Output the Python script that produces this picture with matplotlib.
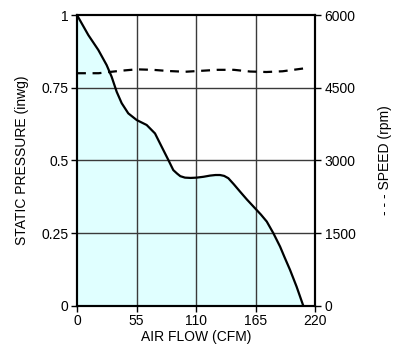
import matplotlib
matplotlib.use("Agg")
import matplotlib.pyplot as plt

plt.rcParams["font.family"] = ["Liberation Sans", "DejaVu Sans"]
plt.rcParams["font.size"] = 10

# ------------------------------------------------------------------
# Data
# ------------------------------------------------------------------
flow_cfm = [0, 10.5, 19.7, 27.4, 32, 36.7, 41.3, 47.4, 55.2, 64.4, 72.1,
            78.3, 84.4, 89, 92.5, 95.5, 99.8, 105, 110.6, 117, 123, 128,
            132.2, 136, 139.9, 145, 150.7, 157, 164.5, 170, 175.4, 181.5,
            187.7, 192, 196.9, 203, 209.2]
pressure_inwg = [1.0, 0.931, 0.88, 0.828, 0.788, 0.736, 0.697, 0.662, 0.639,
                 0.622, 0.593, 0.547, 0.502, 0.467, 0.455, 0.446, 0.441,
                 0.44, 0.441, 0.444, 0.448, 0.45, 0.45, 0.447, 0.439, 0.418,
                 0.393, 0.366, 0.336, 0.314, 0.29, 0.25, 0.204, 0.166,
                 0.124, 0.066, 0.0]

speed_cfm = [0, 20, 40, 55, 70, 85, 100, 115, 130, 145, 160, 175, 190,
             200, 210]
speed_rpm = [4800, 4800, 4850, 4880, 4870, 4845, 4830, 4850, 4870, 4870,
             4835, 4825, 4840, 4870, 4900]

x_ticks = [0, 55, 110, 165, 220]
p_ticks = [0, 0.25, 0.5, 0.75, 1]
p_labels = ["0", "0.25", "0.5", "0.75", "1"]
rpm_ticks = [0, 1500, 3000, 4500, 6000]

fig = plt.figure(figsize=(4, 3.5), dpi=100)
ax = fig.add_axes([0.1925, 0.126, 0.595, 0.831])

ax.fill_between(flow_cfm, pressure_inwg, 0, color="#e0ffff", zorder=1)
for x in x_ticks[1:-1]:
    ax.axvline(x, color="#3a3a3a", lw=1, zorder=2)
for y in p_ticks[1:-1]:
    ax.axhline(y, color="#3a3a3a", lw=1, zorder=2)
ax.plot(flow_cfm, pressure_inwg, color="black", lw=1.6, zorder=4)

ax.set_xlim(0, 220)
ax.set_ylim(0, 1)
ax.set_xticks(x_ticks)
ax.set_yticks(p_ticks)
ax.set_yticklabels(p_labels)
ax.set_xlabel("AIR FLOW (CFM)", labelpad=1)
ax.set_ylabel("STATIC PRESSURE (inwg)", labelpad=9)
ax.tick_params(direction="out", length=4, width=1, pad=2)
for s in ax.spines.values():
    s.set_linewidth(1.5)

ax2 = ax.twinx()
ax2.plot(speed_cfm, speed_rpm, color="black", lw=1.6, ls=(0, (4, 3)), zorder=4)
ax2.set_ylim(0, 6000)
ax2.set_yticks(rpm_ticks)
ax2.set_ylabel("- - - SPEED (rpm)", labelpad=16)
ax2.tick_params(direction="out", length=4, width=1, pad=3)
for s in ax2.spines.values():
    s.set_linewidth(1.5)

fig.savefig("out.png", dpi=100)
